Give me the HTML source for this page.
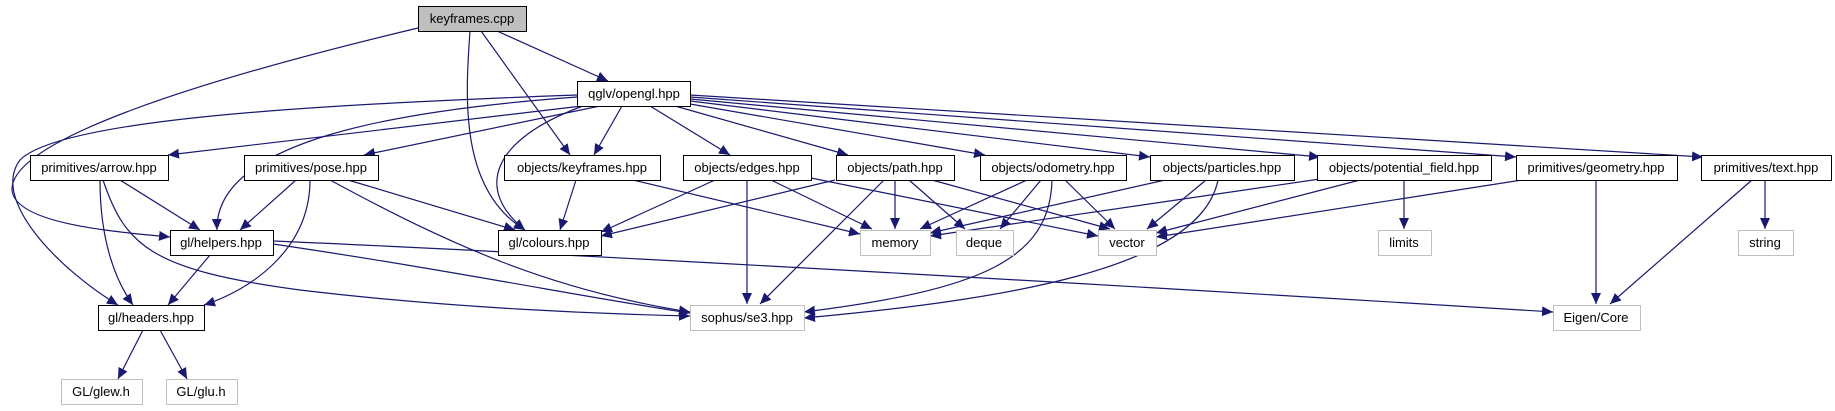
<!DOCTYPE html>
<html><head><meta charset="utf-8"><style>
html,body{margin:0;padding:0;background:#fff;}
svg{display:block;}
text{font-family:"Liberation Sans",sans-serif;font-size:13px;fill:#000;}
</style></head><body>
<svg width="1835" height="411" viewBox="0 0 1835 411" xmlns="http://www.w3.org/2000/svg">
<defs>
<marker id="a" markerUnits="userSpaceOnUse" markerWidth="12" markerHeight="10" refX="11" refY="5" orient="auto">
<path d="M0,0 L11,5 L0,10 Z" fill="#191970"/>
</marker>
</defs>
<g fill="none" stroke="#191970" stroke-width="1.2" marker-end="url(#a)">
<path d="M497 31 L608 81"/>
<path d="M481 31 L570 155"/>
<path d="M470 31 C465 100,460 190,525 230"/>
<path d="M418 28 C200 80,10 140,12 190 C15 225,120 232,170 237"/>
<path d="M577 95 C300 105,60 120,20 160 C-10 200,60 270,118 305"/>
<path d="M577 97 C400 110,215 140,217 230"/>
<path d="M582 106 L168 155"/>
<path d="M600 106 L364 155"/>
<path d="M583 106 C490 140,475 190,525 230"/>
<path d="M622 106 L594 155"/>
<path d="M650 106 L730 155"/>
<path d="M675 106 L848 155"/>
<path d="M690 104 L985 155"/>
<path d="M690 101 L1150 157"/>
<path d="M690 99 L1320 157"/>
<path d="M690 97 L1516 157"/>
<path d="M690 95 L1703 157"/>
<path d="M120 180 L200 230"/>
<path d="M100 180 C100 240,115 280,133 305"/>
<path d="M103 180 C125 245,150 270,300 290 C450 308,600 314,690 316"/>
<path d="M296 180 L240 230"/>
<path d="M310 180 C310 250,250 290,204 305"/>
<path d="M348 180 L515 230"/>
<path d="M330 180 C450 245,550 290,690 312"/>
<path d="M576 180 L560 230"/>
<path d="M633 180 L860 234"/>
<path d="M715 180 L601 232"/>
<path d="M835 180 L601 236"/>
<path d="M771 180 L872 229"/>
<path d="M747 180 L747 304"/>
<path d="M811 178 L1098 236"/>
<path d="M895 180 L895 229"/>
<path d="M909 180 L965 229"/>
<path d="M932 180 L1110 229"/>
<path d="M884 180 L760 304"/>
<path d="M1027 180 L920 229"/>
<path d="M1041 180 L1000 229"/>
<path d="M1065 180 L1115 229"/>
<path d="M1052 180 C1050 260,980 290,804 312"/>
<path d="M1165 180 L930 233"/>
<path d="M1206 180 L1147 229"/>
<path d="M1218 180 C1200 270,1000 300,804 318"/>
<path d="M1320 179 L930 236"/>
<path d="M1360 180 L1156 233"/>
<path d="M1404 180 L1404 229"/>
<path d="M1522 180 L1156 237"/>
<path d="M1596 180 L1596 304"/>
<path d="M1752 180 L1610 304"/>
<path d="M1765 180 L1765 229"/>
<path d="M210 255 L168 305"/>
<path d="M273 244 C450 270,600 300,690 313"/>
<path d="M273 241 C600 255,1200 290,1553 312"/>
<path d="M143 330 L118 379"/>
<path d="M160 330 L187 379"/>
</g>
<g stroke-width="1">
<rect x="418.5" y="6.5" width="108" height="25" fill="#bfbfbf" stroke="#000"/>
<g fill="#fff" stroke="#000">
<rect x="577.5" y="81.5" width="113" height="25"/>
<rect x="30.5" y="155.5" width="138" height="25"/>
<rect x="244.5" y="155.5" width="134" height="25"/>
<rect x="504.5" y="155.5" width="156" height="25"/>
<rect x="683.5" y="155.5" width="128" height="25"/>
<rect x="836.5" y="155.5" width="118" height="25"/>
<rect x="980.5" y="155.5" width="146" height="25"/>
<rect x="1150.5" y="155.5" width="144" height="25"/>
<rect x="1317.5" y="155.5" width="174" height="25"/>
<rect x="1516.5" y="155.5" width="161" height="25"/>
<rect x="1701.5" y="155.5" width="130" height="25"/>
<rect x="170.5" y="230.5" width="103" height="25"/>
<rect x="498.5" y="230.5" width="103" height="25"/>
<rect x="98.5" y="305.5" width="106" height="25"/>
</g>
<g fill="#fff" stroke="#bfbfbf">
<rect x="860.5" y="230.5" width="70" height="25"/>
<rect x="956.5" y="230.5" width="57" height="25"/>
<rect x="1098.5" y="230.5" width="58" height="25"/>
<rect x="1378.5" y="230.5" width="53" height="25"/>
<rect x="1738.5" y="230.5" width="55" height="25"/>
<rect x="690.5" y="305.5" width="114" height="25"/>
<rect x="1553.5" y="305.5" width="87" height="25"/>
<rect x="61.5" y="379.5" width="81" height="25"/>
<rect x="166.5" y="379.5" width="71" height="25"/>
</g>
</g>
<g text-anchor="middle">
<text x="472" y="23">keyframes.cpp</text>
<text x="634" y="98">qglv/opengl.hpp</text>
<text x="99" y="172">primitives/arrow.hpp</text>
<text x="311" y="172">primitives/pose.hpp</text>
<text x="582" y="172">objects/keyframes.hpp</text>
<text x="747" y="172">objects/edges.hpp</text>
<text x="895" y="172">objects/path.hpp</text>
<text x="1053" y="172">objects/odometry.hpp</text>
<text x="1222" y="172">objects/particles.hpp</text>
<text x="1404" y="172">objects/potential_field.hpp</text>
<text x="1596" y="172">primitives/geometry.hpp</text>
<text x="1766" y="172">primitives/text.hpp</text>
<text x="221" y="247">gl/helpers.hpp</text>
<text x="549" y="247">gl/colours.hpp</text>
<text x="895" y="247">memory</text>
<text x="984" y="247">deque</text>
<text x="1127" y="247">vector</text>
<text x="1404" y="247">limits</text>
<text x="1765" y="247">string</text>
<text x="151" y="322">gl/headers.hpp</text>
<text x="747" y="322">sophus/se3.hpp</text>
<text x="1596" y="322">Eigen/Core</text>
<text x="101" y="396">GL/glew.h</text>
<text x="201" y="396">GL/glu.h</text>
</g>
</svg>
</body></html>
